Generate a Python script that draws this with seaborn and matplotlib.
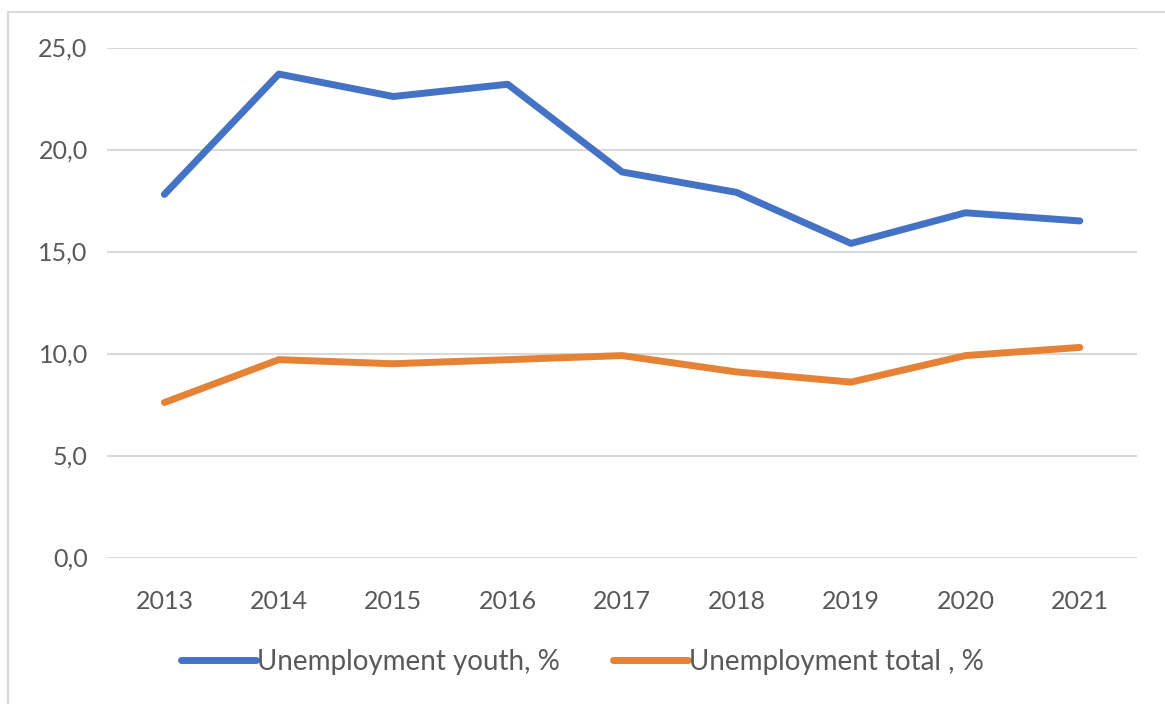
import pandas as pd
import matplotlib.pyplot as plt
import matplotlib.patches as mpatches
import seaborn as sns

years = [2013, 2014, 2015, 2016, 2017, 2018, 2019, 2020, 2021]
youth = [17.8, 23.7, 22.6, 23.2, 18.9, 17.9, 15.4, 16.9, 16.5]
total = [7.6, 9.7, 9.5, 9.7, 9.9, 9.1, 8.6, 9.9, 10.3]
series_names = ['Unemployment youth, %', 'Unemployment total , %']
colors = ['#4472C4', '#E58236']

df = pd.DataFrame({
    'Year': years * 2,
    'Value': youth + total,
    'Series': [series_names[0]] * len(years) + [series_names[1]] * len(years),
})

sns.set_theme(style='white')
plt.rcParams['font.family'] = ['Lato', 'DejaVu Sans']

fig = plt.figure(figsize=(11.65, 7.04), dpi=100)
ax = fig.add_axes([0.092, 0.208, 0.884, 0.7245])

sns.lineplot(data=df, x='Year', y='Value', hue='Series', palette=colors,
             linewidth=5, solid_capstyle='round', ax=ax, legend=False)

ax.set_xlim(2012.5, 2021.5)
ax.set_ylim(0, 25)
ax.set_yticks([0, 5, 10, 15, 20, 25])
ax.set_yticklabels([f'{v:.1f}'.replace('.', ',') for v in [0, 5, 10, 15, 20, 25]])
ax.set_xticks(years)
ax.set_xticklabels([str(y) for y in years])
ax.tick_params(axis='both', length=0, labelsize=18, colors='#595959')
ax.tick_params(axis='x', pad=23)
ax.tick_params(axis='y', pad=14)
ax.set_xlabel('')
ax.set_ylabel('')
ax.grid(axis='y', color='#d9d9d9', linewidth=1.5)
ax.set_axisbelow(True)
for s in ax.spines.values():
    s.set_visible(False)

handles = [plt.Line2D([], [], color=c, linewidth=5, solid_capstyle='round') for c in colors]
fig.legend(handles, series_names, loc='center', bbox_to_anchor=(0.5, 0.06), ncol=2,
           frameon=False, fontsize=20, handlelength=2.7, handletextpad=0.05,
           columnspacing=1.9, labelcolor='#595959')

border = mpatches.Rectangle((8 / 1165, -0.05), 1.2, 1.05 - 12 / 704, transform=fig.transFigure,
                            fill=False, edgecolor='#d9d9d9', linewidth=1.5)
fig.patches.append(border)

fig.savefig('out.png', dpi=100)
